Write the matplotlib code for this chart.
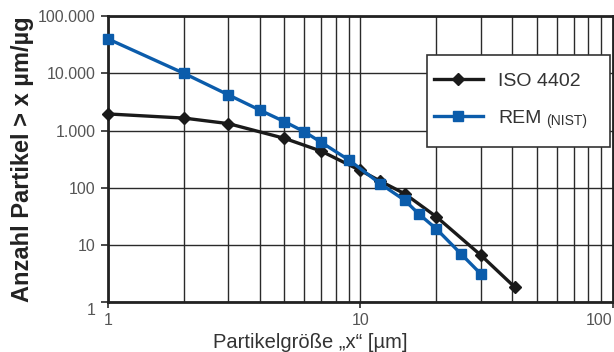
import matplotlib
matplotlib.use("Agg")
import matplotlib.pyplot as plt
import matplotlib.transforms as mtransforms
from matplotlib.patches import Rectangle
from matplotlib.ticker import FixedLocator, NullLocator

plt.rcParams['font.family'] = ['Liberation Sans', 'DejaVu Sans']

# --- DATA ---
iso_x = [1, 2, 3, 5, 7, 10, 12, 15, 20, 30, 41]
iso_y = [1950, 1650, 1320, 730, 435, 200, 130, 78, 31, 6.6, 1.8]

rem_x = [1, 2, 3, 4, 5, 6, 7, 9, 12, 15, 17, 20, 25, 30]
rem_y = [40000, 10000, 4200, 2270, 1430, 950, 620, 305, 117, 60, 35, 19, 7, 3.1]

y_ticks = [1, 10, 100, 1000, 10000, 100000]
y_labels = ["1", "10", "100", "1.000", "10.000", "100.000"]
x_ticks = [1, 10, 100]
x_labels = ["1", "10", "100"]
x_grid = [2, 3, 4, 5, 6, 7, 8, 9, 20, 30, 40, 50, 60, 70, 80, 90]

BLUE = '#0b5cab'
BLACK = '#1a1a1a'
GREY = '#555555'

W, H = 614, 352
fig = plt.figure(figsize=(W / 100, H / 100), dpi=100)
ax = fig.add_axes([0.176, 0.142, 0.822, 0.812])

ax.set_xscale('log')
ax.set_yscale('log')
ax.set_xlim(1, 100)
ax.set_ylim(1, 100000)

# grid
for gx in x_grid + x_ticks:
    ax.axvline(gx, color='#2a2a2a', lw=1.0, zorder=1)
for gy in y_ticks:
    ax.axhline(gy, color='#2a2a2a', lw=1.0, zorder=1)

ax.plot(iso_x, iso_y, color=BLACK, lw=2.4, marker='D', ms=6.5,
        label='ISO 4402', zorder=3, clip_on=False)
ax.plot(rem_x, rem_y, color=BLUE, lw=2.4, marker='s', ms=7.5,
        label='REM', zorder=4, clip_on=False)

ax.yaxis.set_major_locator(FixedLocator(y_ticks))
ax.yaxis.set_minor_locator(NullLocator())
ax.set_yticklabels(y_labels)
ax.xaxis.set_major_locator(FixedLocator(x_ticks))
ax.xaxis.set_minor_locator(NullLocator())
ax.set_xticklabels(x_labels)

ax.tick_params(axis='y', length=5, width=1.2, color='#2a2a2a', pad=4,
               labelsize=11.5, labelcolor=GREY)
ax.tick_params(axis='x', length=4, width=1.2, color='#2a2a2a', pad=4,
               labelsize=11.5, labelcolor=GREY)
xl = ax.get_xticklabels()
xl[-1].set_ha('right')
# the "1" on the y axis sits a bit lower in the original
yl = ax.get_yticklabels()
yl[0].set_transform(yl[0].get_transform() +
                    mtransforms.ScaledTranslation(0, -5 / 72, fig.dpi_scale_trans))

for s in ax.spines.values():
    s.set_linewidth(2)
    s.set_color('#222222')

ax.set_ylabel("Anzahl Partikel > x µm/µg", fontsize=17, fontweight='bold',
              color='#222222', labelpad=3)
fig.text(0.506, 0.012, "Partikelgröße „x“ [µm]", fontsize=14.5,
         color='#333333', ha='center', va='baseline')

# legend box drawn by hand (tighter left padding than matplotlib allows)
box_l, box_r, box_t, box_b = 427, 610, 55, 147
ax.add_patch(Rectangle((box_l / W, 1 - box_b / H), (box_r - box_l) / W,
                       (box_b - box_t) / H, transform=fig.transFigure,
                       facecolor='white', edgecolor='#333333', lw=1.2,
                       zorder=9, clip_on=False))
fs = 14
pad_px = 0.9 * fs * 100 / 72
leg = ax.legend(loc='upper left',
                bbox_to_anchor=((box_l + 7 - pad_px) / W, 1 - box_t / H),
                bbox_transform=fig.transFigure, fontsize=fs, frameon=False,
                handlelength=2.5, labelspacing=1.0, borderpad=0.9,
                handletextpad=0.8, borderaxespad=0)
for t in leg.get_texts():
    t.set_color('#333333')
leg.set_zorder(10)

# small "(NIST)" after the REM entry
fig.canvas.draw()
rem_txt = leg.get_texts()[1]
bb = rem_txt.get_window_extent()
fx, fy = fig.transFigure.inverted().transform((bb.x1 + 5, bb.y0 + 2))
fig.text(fx, fy, "(NIST)", fontsize=10, color='#333333', ha='left',
         va='baseline', zorder=11)

fig.savefig("out.png", dpi=100)
